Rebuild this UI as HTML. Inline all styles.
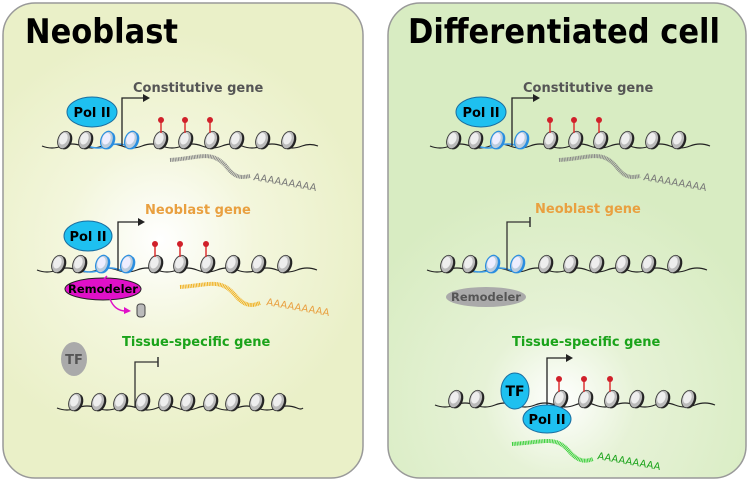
<!DOCTYPE html>
<html><head><meta charset="utf-8"><style>
html,body{margin:0;padding:0;background:#fff;}
svg{display:block;}
text{font-family:"DejaVu Sans","Liberation Sans",sans-serif;font-weight:bold;}
</style></head><body>
<svg width="750" height="482" viewBox="0 0 750 482" xmlns="http://www.w3.org/2000/svg">
<defs>
<radialGradient id="gl" cx="160" cy="240" r="210" gradientUnits="userSpaceOnUse">
<stop offset="0" stop-color="#ffffff"/><stop offset="0.45" stop-color="#f3f6dc"/><stop offset="1" stop-color="#eaf0c8"/></radialGradient>
<radialGradient id="gr" cx="560" cy="400" r="220" gradientUnits="userSpaceOnUse">
<stop offset="0" stop-color="#ffffff"/><stop offset="0.35" stop-color="#e6f2d6"/><stop offset="1" stop-color="#d8ecc2"/></radialGradient>
<g id="nuc"><g transform="rotate(20)"><ellipse cx="2" cy="0" rx="6" ry="9" fill="#222"/><ellipse cx="0" cy="0" rx="6" ry="9" fill="#bbb" stroke="#333" stroke-width="0.8"/><ellipse cx="-1" cy="-1" rx="4" ry="6" fill="#eee"/></g></g>
<g id="nucb"><g transform="rotate(20)"><ellipse cx="2" cy="0" rx="6" ry="9" fill="#2a8ee0"/><ellipse cx="0" cy="0" rx="6" ry="9" fill="#bcd" stroke="#2a8ee0" stroke-width="1.2"/><ellipse cx="-1" cy="-1" rx="4" ry="6" fill="#eef"/></g></g>
<g id="lol"><line x1="0" y1="0" x2="0" y2="-12" stroke="#d33" stroke-width="1.5"/><circle cx="0" cy="-13" r="3" fill="#d0202a"/></g>
</defs>
<rect x="3" y="3" width="360" height="475" rx="32" fill="url(#gl)" stroke="#999" stroke-width="1.5"/>
<rect x="388" y="3" width="358" height="475" rx="32" fill="url(#gr)" stroke="#999" stroke-width="1.5"/>
<text x="25" y="43" font-size="34" textLength="153" lengthAdjust="spacingAndGlyphs">Neoblast</text>
<text x="408" y="43" font-size="34" textLength="312" lengthAdjust="spacingAndGlyphs">Differentiated cell</text>

<!-- LEFT row1 -->
<g>
<path d="M42 146 q10 4 20 0 q10 -4 20 0 q10 4 20 0 q10 -4 20 0 q10 4 20 0 q10 -4 20 0 q10 4 20 0 q10 -4 20 0 q10 4 20 0 q10 -4 20 0 q10 4 20 0 q10 -4 20 0 q10 4 20 0 q8 -3 16 0" fill="none" stroke="#222" stroke-width="1.2"/>
<path d="M88 146 q10 4 20 0 q10 -4 20 0 q5 2 8 0" fill="none" stroke="#3a9ae8" stroke-width="1.5"/>
<use href="#nuc" x="64" y="140"/><use href="#nuc" x="85" y="140"/><use href="#nucb" x="107" y="140"/><use href="#nucb" x="131" y="140"/>
<use href="#nuc" x="160" y="140"/><use href="#nuc" x="185" y="140"/><use href="#nuc" x="211" y="140"/><use href="#nuc" x="236" y="140"/><use href="#nuc" x="262" y="140"/><use href="#nuc" x="288" y="140"/>
<use href="#lol" x="161" y="133"/><use href="#lol" x="185" y="133"/><use href="#lol" x="210" y="133"/>
<ellipse cx="92" cy="112" rx="25" ry="15" fill="#1ec0f0" stroke="#1a6ea0"/><text x="92" y="117" font-size="13" text-anchor="middle">Pol II</text>
<path d="M122 146 V98 H143" fill="none" stroke="#222" stroke-width="1.3"/><path d="M143 94 L150 98 L143 102Z" fill="#222"/>
<text x="133" y="92" font-size="13" fill="#555">Constitutive gene</text>
<path d="M170 160 C200 158 210 150 225 165 C235 178 240 178 250 176" fill="none" stroke="#888" stroke-width="4" stroke-dasharray="1 0.6"/>
<text x="253" y="180" font-size="10" fill="#777" transform="rotate(10 253 180)" style="font-weight:normal">AAAAAAAAA</text>
</g>

<!-- LEFT row2 -->
<g>
<path d="M37 270 q10 4 20 0 q10 -4 20 0 q10 4 20 0 q10 -4 20 0 q10 4 20 0 q10 -4 20 0 q10 4 20 0 q10 -4 20 0 q10 4 20 0 q10 -4 20 0 q10 4 20 0 q10 -4 20 0 q10 4 20 0 q10 -4 20 0" fill="none" stroke="#222" stroke-width="1.2"/>
<path d="M80 270 q10 4 20 0 q10 -4 20 0 q5 2 8 0" fill="none" stroke="#3a9ae8" stroke-width="1.5"/>
<use href="#nuc" x="58" y="264"/><use href="#nuc" x="79" y="264"/><use href="#nucb" x="102" y="264"/><use href="#nucb" x="127" y="264"/>
<use href="#nuc" x="155" y="264"/><use href="#nuc" x="180" y="264"/><use href="#nuc" x="207" y="264"/><use href="#nuc" x="232" y="264"/><use href="#nuc" x="258" y="264"/><use href="#nuc" x="284" y="264"/>
<use href="#lol" x="155" y="257"/><use href="#lol" x="180" y="257"/><use href="#lol" x="206" y="257"/>
<ellipse cx="88" cy="236" rx="24" ry="15" fill="#1ec0f0" stroke="#1a6ea0"/><text x="88" y="241" font-size="13" text-anchor="middle">Pol II</text>
<path d="M118 270 V222 H138" fill="none" stroke="#222" stroke-width="1.3"/><path d="M138 218 L145 222 L138 226Z" fill="#222"/>
<text x="145" y="214" font-size="13" fill="#e9a040">Neoblast gene</text>
<ellipse cx="103" cy="289" rx="38" ry="11" fill="#e010c8" stroke="#222"/><text x="103" y="293" font-size="11.5" text-anchor="middle">Remodeler</text>
<path d="M107 276 L103 280" stroke="#e010c8" stroke-width="1.5"/>
<path d="M110 299 Q115 312 128 311" fill="none" stroke="#e010c8" stroke-width="1.5"/><path d="M124 307 L131 311 L124 314Z" fill="#e010c8"/>
<rect x="137" y="304" width="8" height="13" rx="3" fill="#bbb" stroke="#444"/>
<path d="M180 287 C210 285 220 278 235 295 C245 307 252 306 260 303" fill="none" stroke="#f0b020" stroke-width="4" stroke-dasharray="1 0.6"/>
<text x="266" y="305" font-size="10" fill="#e9a040" transform="rotate(10 266 305)" style="font-weight:normal">AAAAAAAAA</text>
</g>

<!-- LEFT row3 -->
<g>
<text x="122" y="346" font-size="13" fill="#1aa31a">Tissue-specific gene</text>
<ellipse cx="74" cy="359" rx="13" ry="17" fill="#aaa"/><text x="74" y="364" font-size="13" text-anchor="middle" fill="#555">TF</text>
<path d="M57 408 q10 4 20 0 q10 -4 20 0 q10 4 20 0 q10 -4 20 0 q10 4 20 0 q10 -4 20 0 q10 4 20 0 q10 -4 20 0 q10 4 20 0 q10 -4 20 0 q10 4 20 0 q10 -4 20 0 q4 2 6 0" fill="none" stroke="#222" stroke-width="1.2"/>
<use href="#nuc" x="75" y="402"/><use href="#nuc" x="98" y="402"/><use href="#nuc" x="120" y="402"/><use href="#nuc" x="142" y="402"/><use href="#nuc" x="165" y="402"/><use href="#nuc" x="187" y="402"/><use href="#nuc" x="210" y="402"/><use href="#nuc" x="232" y="402"/><use href="#nuc" x="256" y="402"/><use href="#nuc" x="278" y="402"/>
<path d="M135 408 V362 H158" fill="none" stroke="#333" stroke-width="1.3"/><path d="M158 357 V367" stroke="#333" stroke-width="1.5"/>
</g>

<!-- RIGHT row1 -->
<g>
<path d="M430 146 q10 4 20 0 q10 -4 20 0 q10 4 20 0 q10 -4 20 0 q10 4 20 0 q10 -4 20 0 q10 4 20 0 q10 -4 20 0 q10 4 20 0 q10 -4 20 0 q10 4 20 0 q10 -4 20 0 q10 4 20 0 q10 -4 20 0" fill="none" stroke="#222" stroke-width="1.2"/>
<path d="M478 146 q10 4 20 0 q10 -4 20 0 q5 2 8 0" fill="none" stroke="#3a9ae8" stroke-width="1.5"/>
<use href="#nuc" x="453" y="140"/><use href="#nuc" x="475" y="140"/><use href="#nucb" x="497" y="140"/><use href="#nucb" x="521" y="140"/>
<use href="#nuc" x="550" y="140"/><use href="#nuc" x="575" y="140"/><use href="#nuc" x="600" y="140"/><use href="#nuc" x="626" y="140"/><use href="#nuc" x="652" y="140"/><use href="#nuc" x="678" y="140"/>
<use href="#lol" x="550" y="133"/><use href="#lol" x="574" y="133"/><use href="#lol" x="599" y="133"/>
<ellipse cx="481" cy="112" rx="25" ry="15" fill="#1ec0f0" stroke="#1a6ea0"/><text x="481" y="117" font-size="13" text-anchor="middle">Pol II</text>
<path d="M512 146 V98 H533" fill="none" stroke="#222" stroke-width="1.3"/><path d="M533 94 L540 98 L533 102Z" fill="#222"/>
<text x="523" y="92" font-size="13" fill="#555">Constitutive gene</text>
<path d="M559 160 C590 158 600 150 615 165 C625 178 630 178 640 176" fill="none" stroke="#888" stroke-width="4" stroke-dasharray="1 0.6"/>
<text x="643" y="180" font-size="10" fill="#777" transform="rotate(10 643 180)" style="font-weight:normal">AAAAAAAAA</text>
</g>

<!-- RIGHT row2 -->
<g>
<path d="M427 270 q10 4 20 0 q10 -4 20 0 q10 4 20 0 q10 -4 20 0 q10 4 20 0 q10 -4 20 0 q10 4 20 0 q10 -4 20 0 q10 4 20 0 q10 -4 20 0 q10 4 20 0 q10 -4 20 0 q10 4 20 0 q10 -4 20 0" fill="none" stroke="#222" stroke-width="1.2"/>
<path d="M470 270 q10 4 20 0 q10 -4 20 0 q5 2 8 0" fill="none" stroke="#3a9ae8" stroke-width="1.5"/>
<use href="#nuc" x="447" y="264"/><use href="#nuc" x="469" y="264"/><use href="#nucb" x="492" y="264"/><use href="#nucb" x="517" y="264"/>
<use href="#nuc" x="545" y="264"/><use href="#nuc" x="570" y="264"/><use href="#nuc" x="596" y="264"/><use href="#nuc" x="622" y="264"/><use href="#nuc" x="648" y="264"/><use href="#nuc" x="674" y="264"/>
<path d="M507 270 V222 H530" fill="none" stroke="#333" stroke-width="1.3"/><path d="M530 217 V227" stroke="#333" stroke-width="1.5"/>
<text x="535" y="213" font-size="13" fill="#e9a040">Neoblast gene</text>
<ellipse cx="486" cy="297" rx="40" ry="10" fill="#aaa"/><text x="486" y="301" font-size="11.5" text-anchor="middle" fill="#555">Remodeler</text>
</g>

<!-- RIGHT row3 -->
<g>
<text x="512" y="346" font-size="13" fill="#1aa31a">Tissue-specific gene</text>
<path d="M435 405 q10 4 20 0 q10 -4 20 0 q10 4 20 0 q10 -4 20 0 q10 4 20 0 q10 -4 20 0 q10 4 20 0 q10 -4 20 0 q10 4 20 0 q10 -4 20 0 q10 4 20 0 q10 -4 20 0 q10 4 20 0 q10 -4 20 0" fill="none" stroke="#222" stroke-width="1.2"/>
<use href="#nuc" x="455" y="399"/><use href="#nuc" x="476" y="399"/><use href="#nuc" x="560" y="399"/><use href="#nuc" x="585" y="399"/><use href="#nuc" x="611" y="399"/><use href="#nuc" x="636" y="399"/><use href="#nuc" x="662" y="399"/><use href="#nuc" x="688" y="399"/>
<use href="#lol" x="559" y="392"/><use href="#lol" x="584" y="392"/><use href="#lol" x="610" y="392"/>
<ellipse cx="515" cy="391" rx="14" ry="18" fill="#1ec0f0" stroke="#1a6ea0"/><text x="515" y="396" font-size="14" text-anchor="middle">TF</text>
<path d="M547 405 V358 H566" fill="none" stroke="#222" stroke-width="1.3"/><path d="M566 354 L573 358 L566 362Z" fill="#222"/>
<ellipse cx="547" cy="419" rx="24" ry="14" fill="#1ec0f0" stroke="#1a6ea0"/><text x="547" y="424" font-size="13" text-anchor="middle">Pol II</text>
<path d="M512 444 C545 442 555 436 568 450 C578 462 585 462 593 459" fill="none" stroke="#3cd03c" stroke-width="4" stroke-dasharray="1 0.6"/>
<text x="597" y="459" font-size="10" fill="#1aa31a" transform="rotate(10 597 459)" style="font-weight:normal">AAAAAAAAA</text>
</g>
</svg>
</body></html>
